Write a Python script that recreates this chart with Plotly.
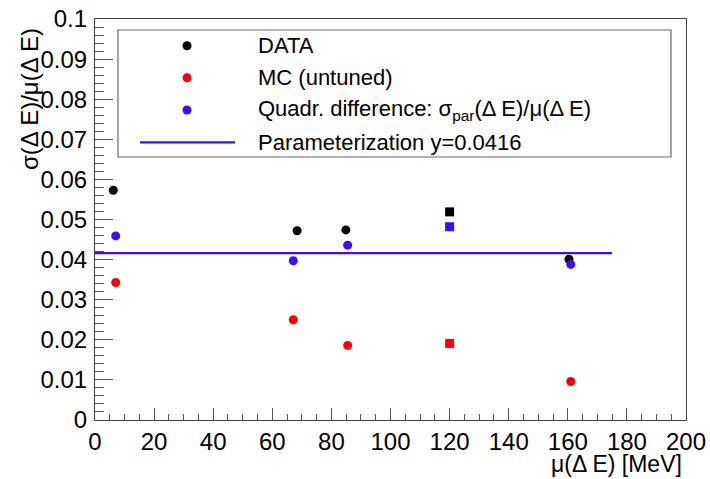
import plotly.graph_objects as go

# ---- data ----
data_x = [6.2, 68.4, 84.9, 160.4]
data_y = [0.0573, 0.0472, 0.0474, 0.0401]
data_sq_x = [120.0]
data_sq_y = [0.0519]

mc_x = [7.0, 67.1, 85.5, 161.0]
mc_y = [0.0343, 0.0250, 0.0186, 0.0096]
mc_sq_x = [120.0]
mc_sq_y = [0.0191]

quad_x = [7.0, 67.1, 85.5, 161.0]
quad_y = [0.0459, 0.0397, 0.0436, 0.0388]
quad_sq_x = [120.0]
quad_sq_y = [0.0482]

param_value = 0.0416
param_x = [0.0, 175.0]

legend_labels = [
    "DATA",
    "MC (untuned)",
    "Quadr. difference: σ<sub>par</sub>(Δ E)/μ(Δ E)",
    "Parameterization y=0.0416",
]

BLACK = "#000000"
RED = "#ff0000"
BLUE = "#3c0cff"
FONT = "Liberation Sans, Arial, Helvetica, sans-serif"

W, H = 710, 479
L, R, T, B = 95, 24, 19, 59
PW, PH = W - L - R, H - T - B

fig = go.Figure()

fig.add_trace(go.Scatter(x=param_x, y=[param_value] * len(param_x), mode="lines",
                         line=dict(color=BLUE, width=2.2), showlegend=False,
                         hoverinfo="skip"))

def pts(x, y, color, symbol):
    fig.add_trace(go.Scatter(x=x, y=y, mode="markers",
                             marker=dict(color=color, size=9, symbol=symbol,
                                         line=dict(width=0)),
                             showlegend=False))

pts(data_x, data_y, BLACK, "circle")
pts(data_sq_x, data_sq_y, BLACK, "square")
pts(mc_x, mc_y, RED, "circle")
pts(mc_sq_x, mc_sq_y, RED, "square")
pts(quad_x, quad_y, BLUE, "circle")
pts(quad_sq_x, quad_sq_y, BLUE, "square")

# ---- pixel -> paper (plot area) conversion ----
def px(xp):
    return (xp - L) / PW

def py(yp):
    return (H - B - yp) / PH

shapes = []
annotations = []
shapes.append(dict(type="rect", xref="paper", yref="paper",
                   x0=px(118), x1=px(671), y0=py(157), y1=py(30),
                   line=dict(color="#666666", width=1.2), fillcolor="white", layer="above"))
rows_y = [45.7, 77.7, 110.0, 142.3]
marker_colors = [BLACK, RED, BLUE]
for c, yy in zip(marker_colors, rows_y[:3]):
    shapes.append(dict(type="circle", xref="paper", yref="paper",
                       x0=px(187 - 4.5), x1=px(187 + 4.5),
                       y0=py(yy + 4.5), y1=py(yy - 4.5),
                       line=dict(width=0), fillcolor=c, layer="above"))
shapes.append(dict(type="line", xref="paper", yref="paper",
                   x0=px(140), x1=px(235), y0=py(rows_y[3]), y1=py(rows_y[3]),
                   line=dict(color=BLUE, width=2.2), layer="above"))
for lab, yy in zip(legend_labels, rows_y):
    annotations.append(dict(text=lab, xref="paper", yref="paper",
                            x=px(256), y=py(yy), xanchor="left", yanchor="middle",
                            showarrow=False, font=dict(family=FONT, size=22, color="black")))

# axis titles
annotations.append(dict(text="μ(Δ E) [MeV]", xref="paper", yref="paper",
                        x=px(684), y=py(464), xanchor="right", yanchor="middle",
                        showarrow=False, font=dict(family=FONT, size=23, color="black")))
annotations.append(dict(text="σ(Δ E)/μ(Δ E)", xref="paper", yref="paper",
                        x=px(29), y=py(99), xanchor="center", yanchor="middle",
                        textangle=-90, showarrow=False,
                        font=dict(family=FONT, size=24, color="black")))

fig.update_layout(
    width=W, height=H,
    margin=dict(l=L, r=R, t=T, b=B, autoexpand=False),
    paper_bgcolor="white", plot_bgcolor="white",
    font=dict(family=FONT, size=24, color="black"),
    shapes=shapes, annotations=annotations,
    showlegend=False,
)
fig.update_xaxes(range=[0, 200], dtick=20, tick0=0, ticks="inside", ticklen=12,
                 tickcolor="#555555", tickwidth=1, showgrid=False, zeroline=False,
                 showline=True, linecolor="#444444", linewidth=1.2, mirror=True,
                 automargin=False,
                 tickfont=dict(family=FONT, size=24, color="black"),
                 ticklabelstandoff=0,
                 minor=dict(dtick=5, ticks="inside", ticklen=6, tickcolor="#555555",
                            showgrid=False))
fig.update_yaxes(range=[0, 0.1], dtick=0.01, tick0=0, ticks="inside", ticklen=18,
                 tickcolor="#555555", tickwidth=1, showgrid=False, zeroline=False,
                 showline=True, linecolor="#444444", linewidth=1.2, mirror=True,
                 automargin=False,
                 tickfont=dict(family=FONT, size=24, color="black"),
                 ticklabelstandoff=2,
                 minor=dict(dtick=0.002, ticks="inside", ticklen=9, tickcolor="#555555",
                            showgrid=False))

fig.write_html(
    "out.html",
    config={"displayModeBar": False},
    post_script="document.body.style.margin='0';document.body.style.padding='0';"
                "document.body.style.overflow='hidden';",
)
